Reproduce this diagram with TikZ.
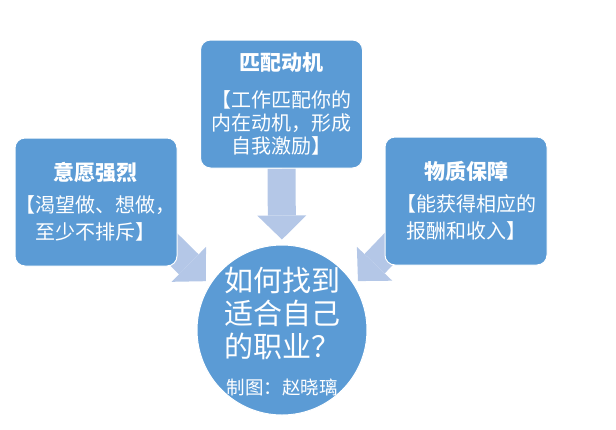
\documentclass[tikz,border=0pt]{standalone}
\usepackage{fontspec}
\setmainfont{Noto Sans CJK SC}
\usetikzlibrary{arrows.meta,backgrounds,calc}
\definecolor{boxblue}{RGB}{91,155,213}
\definecolor{arrowblue}{RGB}{180,199,231}
\newcommand{\boxhead}[1]{{\fontsize{21}{23}\selectfont\bfseries #1}}

\begin{document}
\begin{tikzpicture}[x=1pt, y=-1pt,
	box/.style={fill=boxblue, draw=white, line width=1pt, rounded corners=10pt, minimum width=162pt, minimum height=128pt, text=white, align=center, inner sep=1pt, font=\fontsize{20}{27}\selectfont},
	goalcircle/.style={circle, fill=boxblue, draw=white, line width=1pt, minimum size=170pt, inner sep=0pt},
	fat arrow/.style={arrowblue, line width=28pt, shorten >=5pt, -{Triangle[length=24pt, width=49pt, line width=0pt]}}]
	\useasboundingbox (0,0) rectangle (616,429);
				\node[box] (will) at (96,202) {\boxhead{意愿强烈}\\[5pt]【渴望做、想做，\\至少不排斥】};
				\node[box, font=\fontsize{20}{23}\selectfont] (match) at (281.5,104) {\boxhead{匹配动机}\\[14pt]【工作匹配你的\\内在动机，形成\\自我激励】};
				\node[box] (wealth) at (466,201) {\boxhead{物质保障}\\[5pt]【能获得相应的\\报酬和收入】};
				\node[goalcircle] (goal) at (282,330) {};
				\node[text=white, align=center, inner sep=0pt, font=\fontsize{29}{33}\selectfont] (question) at (282,332) {如何找到\\适合自己\\的职业？\\[4pt]{\fontsize{18.5}{24}\selectfont 制图：赵晓璃}};
				% arrows sit behind the boxes
				\coordinate (willtail) at ($(will.south east)+(-20,-33)$);
				\coordinate (wealthtail) at ($(wealth.south west)+(20,-33)$);
				\begin{scope}[on background layer]
				\draw[fat arrow] (match.south) -- (goal.north);
				\draw[fat arrow] (willtail) -- (goal.148);
				\draw[fat arrow] (wealthtail) -- (goal.32);
				\end{scope}
			\end{tikzpicture}
\end{document}
